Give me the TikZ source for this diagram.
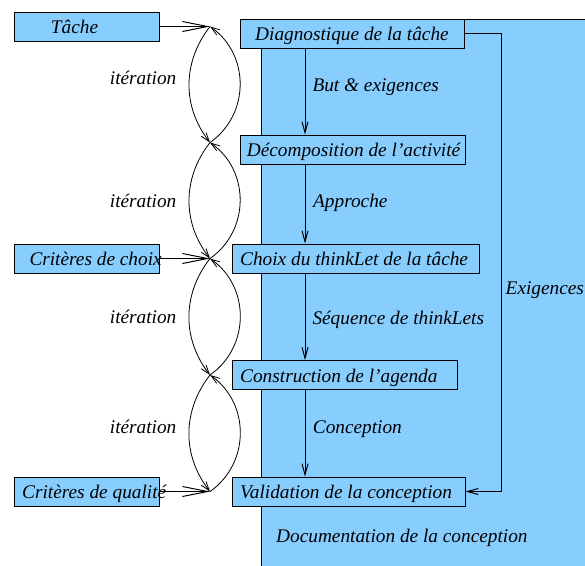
\documentclass[tikz,border=0pt]{standalone}
\usepackage{fontspec}
\setmainfont{Liberation Serif}
\usetikzlibrary{arrows.meta}
\definecolor{ltblue}{HTML}{87CEFF}
\begin{document}
\begin{tikzpicture}[x=1pt,y=-1pt,
  box/.style={draw=black, line width=0.8pt, fill=ltblue, inner sep=0pt, minimum height=29pt},
  txt/.style={anchor=base west, inner sep=0pt, font=\fontsize{19.3}{23}\selectfont\itshape},
  harrow/.style={line width=1pt, -{Straight Barb[length=25pt,width=10pt]}},
  varrow/.style={line width=1pt, -{Straight Barb[length=11pt,width=6pt]}},
  iter/.style={line width=0.8pt, -{Straight Barb[length=9pt,width=6pt]}},
]
\useasboundingbox (0,0) rectangle (585,565);
% background
\draw[fill=ltblue, draw=black, line width=0.8pt] (261.5,19) rectangle (600,580);
% left boxes
\node[box, minimum width=145pt] (tache) at (86.5,26.5) {};
\node[box, minimum width=145pt] (critchoix) at (86.5,258.5) {};
\node[box, minimum width=145pt] (critqual) at (86.5,491.5) {};
% right boxes
\node[box, minimum width=224pt] (diag) at (352,33.5) {};
\node[box, minimum width=225pt] (decomp) at (352.5,149.5) {};
\node[box, minimum width=247pt] (choix) at (355.5,258.5) {};
\node[box, minimum width=225pt] (constr) at (344.5,375) {};
\node[box, minimum width=233pt] (valid) at (348.5,491.5) {};
% box texts
\node[txt] (ttache) at (50.7,33.5) {Tâche};
\node[txt] (tcritchoix) at (29.3,265.5) {Critères de choix};
\node[txt] (tcritqual) at (22,498.5) {Critères de qualité};
\node[txt] (tdiag) at (255,40.5) {Diagnostique de la tâche};
\node[txt] (tdecomp) at (246.7,156.5) {Décomposition de l’activité};
\node[txt] (tchoix) at (240,265.5) {Choix du thinkLet de la tâche};
\node[txt] (tconstr) at (240,382.5) {Construction de l’agenda};
\node[txt] (tvalid) at (240,498.5) {Validation de la conception};
% crossing points
\coordinate (p1) at (210,26.5);
\coordinate (p2) at (210,142.5);
\coordinate (p3) at (210,258.5);
\coordinate (p4) at (210,375);
\coordinate (p5) at (210,491.5);
\coordinate (xa) at (305,0);
\coordinate (ex) at (501,0);
% horizontal arrows
\draw[harrow] (tache.east) -- (p1);
\draw[harrow] (critchoix.east) -- (p3);
\draw[harrow] (critqual.east) -- (p5);
% iteration lenses
\foreach \a/\b in {p1/p2,p2/p3,p3/p4,p4/p5}{
  \draw[iter] (\a) to[bend right=38] (\b);
  \draw[iter] (\b) to[bend right=55, looseness=1.08] (\a);
}
% vertical arrows
\draw[varrow] (diag.south -| xa) -- (decomp.north -| xa);
\draw[varrow] (decomp.south -| xa) -- (choix.north -| xa);
\draw[varrow] (choix.south -| xa) -- (constr.north -| xa);
\draw[varrow] (constr.south -| xa) -- (valid.north -| xa);
% exigences loop
\draw[varrow] (diag.east) -- (diag.east -| ex) -- (valid.east -| ex) -- (valid.east);
% labels
\node[txt] (it1) at (109.7,84) {itération};
\node[txt] (it2) at (109.7,207) {itération};
\node[txt] (it3) at (109.7,323.5) {itération};
\node[txt] (it4) at (109.7,433.3) {itération};
\node[txt] (l1) at (312.3,91.5) {But \& exigences};
\node[txt] (l2) at (313,207.5) {Approche};
\node[txt] (l3) at (312.3,324) {Séquence de thinkLets};
\node[txt] (l4) at (312.7,433.3) {Conception};
\node[txt] (l5) at (505.5,294.3) {Exigences};
\node[txt] (l6) at (276,542.7) {Documentation de la conception};
\end{tikzpicture}
\end{document}
